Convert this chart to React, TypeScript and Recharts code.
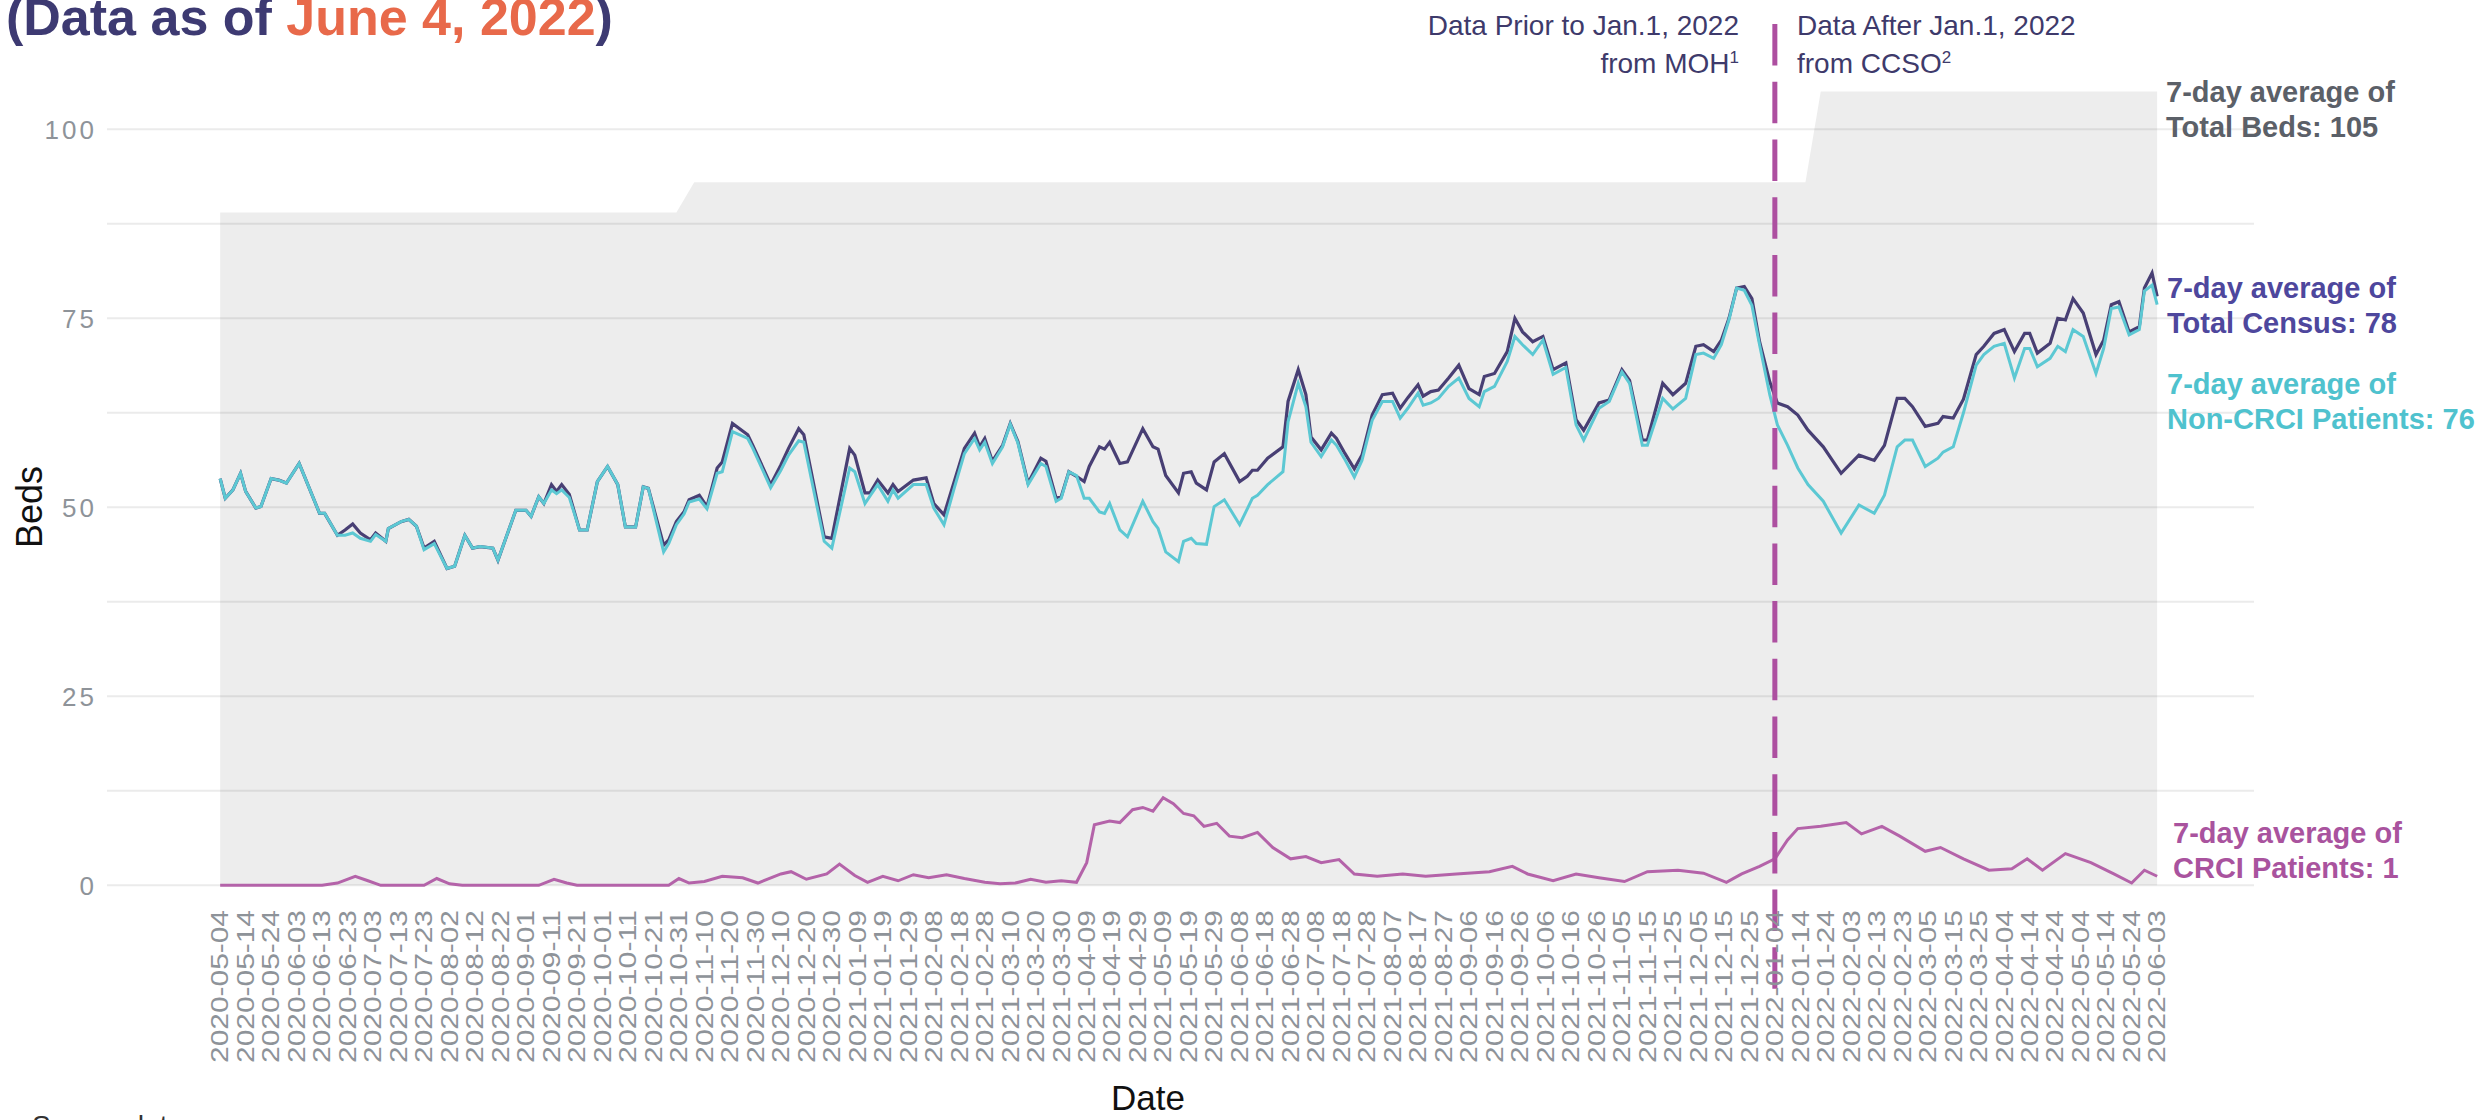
import React from 'react';
import { ComposedChart, Line, Area, XAxis, YAxis, CartesianGrid, ReferenceLine } from 'recharts';

// x positions are day offsets from 2020-05-04
const tickLabels = [
  '2020-05-04','2020-05-14','2020-05-24','2020-06-03','2020-06-13','2020-06-23','2020-07-03','2020-07-13','2020-07-23','2020-08-02',
  '2020-08-12','2020-08-22','2020-09-01','2020-09-11','2020-09-21','2020-10-01','2020-10-11','2020-10-21','2020-10-31','2020-11-10',
  '2020-11-20','2020-11-30','2020-12-10','2020-12-20','2020-12-30','2021-01-09','2021-01-19','2021-01-29','2021-02-08','2021-02-18',
  '2021-02-28','2021-03-10','2021-03-20','2021-03-30','2021-04-09','2021-04-19','2021-04-29','2021-05-09','2021-05-19','2021-05-29',
  '2021-06-08','2021-06-18','2021-06-28','2021-07-08','2021-07-18','2021-07-28','2021-08-07','2021-08-17','2021-08-27','2021-09-06',
  '2021-09-16','2021-09-26','2021-10-06','2021-10-16','2021-10-26','2021-11-05','2021-11-15','2021-11-25','2021-12-05','2021-12-15',
  '2021-12-25','2022-01-04','2022-01-14','2022-01-24','2022-02-03','2022-02-13','2022-02-23','2022-03-05','2022-03-15','2022-03-25',
  '2022-04-04','2022-04-14','2022-04-24','2022-05-04','2022-05-14','2022-05-24','2022-06-03',
];
const tickDays = tickLabels.map((_, i) => i * 10);

const yTicks = [0, 25, 50, 75, 100];
const gridValues = [0, 12.5, 25, 37.5, 50, 62.5, 75, 87.5, 100];

const lineDays = [
  0, 2, 5, 8, 10, 14, 16, 20, 23, 26, 31, 35, 39, 41, 46, 49, 52, 55, 59, 61, 65, 66, 71, 74, 77, 80, 84, 89, 92, 96,
  99, 102, 107, 109, 116, 120, 122, 125, 127, 130, 132, 134, 137, 141, 144, 148, 152, 156, 159, 163, 166, 168, 174, 176, 179, 182, 184, 188, 191, 195,
  197, 201, 207, 209, 216, 220, 223, 227, 229, 237, 240, 247, 249, 253, 255, 258, 262, 264, 266, 272, 277, 280, 284, 288, 292, 296, 298, 300, 303, 307,
  310, 313, 317, 322, 324, 328, 330, 333, 336, 339, 341, 345, 347, 349, 353, 356, 362, 366, 368, 371, 376, 378, 381, 383, 387, 390, 394, 400, 403, 405,
  407, 411, 417, 419, 423, 426, 428, 432, 436, 438, 441, 445, 448, 452, 456, 460, 463, 466, 470, 472, 475, 478, 482, 486, 490, 494, 496, 500, 505, 508,
  511, 515, 519, 523, 528, 532, 535, 541, 545, 550, 553, 558, 560, 566, 570, 575, 579, 582, 586, 589, 592, 595, 598, 601, 604, 608, 611, 615, 619, 623,
  629, 636, 643, 649, 653, 658, 661, 664, 669, 674, 676, 680, 684, 689, 692, 696, 700, 704, 708, 710, 713, 718, 721, 724, 727, 731, 736, 739, 742, 745,
  749, 753, 755, 758, 760,
];
const totalCensus = [
  53.8, 51.2, 52.3, 54.5, 52.1, 49.9, 50.1, 53.8, 53.6, 53.2, 55.8, 52.5, 49.2, 49.2, 46.3, 47.0, 47.8, 46.6, 45.7, 46.6, 45.5, 47.2, 48.1, 48.4, 47.5, 44.6, 45.5, 41.9, 42.2, 46.3,
  44.6, 44.8, 44.6, 43.0, 49.6, 49.6, 48.8, 51.4, 50.5, 53.0, 52.1, 53.0, 51.7, 47.0, 47.0, 53.4, 55.4, 53.0, 47.4, 47.4, 52.7, 52.5, 45.0, 45.7, 48.1, 49.4, 51.0, 51.6, 50.1, 55.2,
  56.0, 61.1, 59.6, 58.2, 53.0, 55.6, 57.8, 60.4, 59.6, 46.1, 45.9, 57.8, 56.9, 51.9, 51.9, 53.6, 51.9, 53.0, 52.1, 53.6, 53.9, 50.5, 49.0, 53.4, 57.8, 59.8, 58.0, 59.1, 56.1, 58.2,
  61.1, 58.7, 53.2, 56.5, 56.1, 51.2, 51.4, 54.7, 54.1, 53.4, 55.4, 58.0, 57.7, 58.6, 55.8, 56.0, 60.4, 58.0, 57.7, 54.2, 51.9, 54.5, 54.7, 53.2, 52.3, 56.0, 57.1, 53.4, 54.1, 54.9,
  54.9, 56.5, 58.0, 64.0, 68.2, 64.9, 59.3, 57.6, 59.8, 59.1, 57.3, 55.1, 56.9, 62.2, 64.9, 65.1, 63.1, 64.5, 66.2, 64.7, 65.3, 65.5, 67.1, 68.8, 65.7, 64.9, 67.3, 67.7, 70.6, 75.0,
  73.2, 71.9, 72.6, 68.2, 69.1, 61.6, 60.2, 63.8, 64.2, 68.2, 66.8, 58.9, 58.9, 66.4, 64.9, 66.4, 71.3, 71.5, 70.6, 72.1, 75.0, 79.0, 79.2, 77.6, 71.9, 66.6, 63.8, 63.3, 62.2, 60.2,
  58.0, 54.5, 56.9, 56.2, 58.2, 64.4, 64.4, 63.3, 60.7, 61.1, 62.0, 61.8, 64.3, 70.2, 71.3, 73.0, 73.5, 70.6, 73.0, 73.0, 70.4, 71.7, 75.0, 74.8, 77.6, 75.7, 70.2, 72.1, 76.8, 77.2,
  73.2, 73.9, 79.0, 81.0, 77.9,
];
const nonCrciPatients = [
  53.8, 51.2, 52.3, 54.5, 52.1, 49.9, 50.1, 53.8, 53.6, 53.2, 55.8, 52.5, 49.2, 49.2, 46.3, 46.3, 46.6, 45.9, 45.5, 46.4, 45.5, 47.2, 48.1, 48.4, 47.5, 44.4, 45.2, 41.9, 42.2, 46.3,
  44.6, 44.8, 44.6, 43.0, 49.6, 49.6, 48.8, 51.4, 50.5, 52.3, 51.8, 52.3, 51.3, 47.0, 47.0, 53.4, 55.4, 53.0, 47.4, 47.4, 52.7, 52.5, 44.1, 45.2, 47.7, 49.1, 50.7, 51.1, 49.8, 54.5,
  54.7, 60.0, 59.1, 57.8, 52.6, 54.9, 56.9, 58.8, 58.6, 45.5, 44.6, 55.2, 54.7, 50.5, 51.5, 53.0, 50.8, 52.3, 51.2, 53.0, 53.0, 49.9, 47.7, 52.5, 57.1, 59.1, 57.6, 58.6, 55.8, 58.0,
  61.0, 58.5, 53.0, 55.8, 55.4, 50.8, 51.2, 54.7, 54.2, 51.2, 51.2, 49.4, 49.2, 50.5, 47.0, 46.1, 50.8, 48.1, 47.2, 44.1, 42.8, 45.5, 45.9, 45.2, 45.1, 50.1, 51.0, 47.7, 49.8, 51.2,
  51.6, 53.0, 54.7, 61.3, 66.4, 63.3, 58.6, 56.7, 58.9, 58.2, 56.5, 54.0, 56.2, 61.5, 64.0, 64.0, 61.8, 63.1, 65.1, 63.5, 63.8, 64.4, 66.0, 67.1, 64.4, 63.3, 65.3, 66.0, 69.3, 72.6,
  71.5, 70.2, 72.1, 67.6, 68.5, 60.9, 58.9, 63.1, 64.0, 67.9, 66.4, 58.2, 58.2, 64.4, 63.0, 64.4, 70.2, 70.4, 69.7, 71.5, 74.8, 79.0, 78.7, 76.7, 71.5, 64.9, 60.9, 58.2, 55.2, 53.0,
  50.8, 46.6, 50.3, 49.2, 51.6, 58.0, 58.9, 58.9, 55.4, 56.5, 57.3, 58.0, 62.5, 68.8, 70.2, 71.3, 71.7, 67.1, 71.0, 71.0, 68.6, 69.7, 71.3, 70.6, 73.5, 72.6, 67.7, 71.0, 76.3, 76.5,
  72.8, 73.5, 78.6, 79.4, 76.8,
];

const crciDays = [
  0, 40, 46, 53, 58, 63, 80, 85, 90, 95, 125, 131, 136, 140, 176, 180, 184, 190, 197, 205, 211, 220, 224, 230, 238, 243, 249, 254, 260, 266,
  272, 278, 285, 292, 300, 306, 312, 318, 324, 330, 336, 340, 343, 349, 353, 358, 362, 366, 370, 374, 378, 382, 386, 391, 396, 401, 407, 413, 420, 426,
  432, 439, 445, 454, 464, 473, 485, 498, 507, 513, 523, 532, 541, 551, 560, 572, 582, 591, 597, 604, 610, 615, 619, 628, 638, 644, 652, 659, 669, 675,
  684, 694, 703, 709, 715, 724, 734, 743, 750, 755, 760,
];
const crciPatients = [
  0, 0, 0.3, 1.2, 0.6, 0, 0, 0.9, 0.2, 0, 0, 0.8, 0.3, 0, 0, 0.9, 0.3, 0.5, 1.2, 1.0, 0.3, 1.5, 1.8, 0.8, 1.5, 2.8, 1.3, 0.4, 1.2, 0.6,
  1.4, 1.0, 1.4, 0.9, 0.4, 0.2, 0.3, 0.8, 0.4, 0.6, 0.4, 3.0, 8.0, 8.5, 8.3, 10.0, 10.3, 9.8, 11.6, 10.8, 9.5, 9.2, 7.8, 8.2, 6.5, 6.3, 7.0, 5.0, 3.5, 3.8,
  3.0, 3.4, 1.5, 1.2, 1.5, 1.2, 1.5, 1.8, 2.5, 1.5, 0.6, 1.5, 1.0, 0.5, 1.8, 2.0, 1.6, 0.4, 1.5, 2.5, 3.5, 6.0, 7.5, 7.8, 8.3, 6.8, 7.8, 6.5, 4.5, 5.0,
  3.5, 2.0, 2.2, 3.5, 2.0, 4.2, 3.0, 1.5, 0.3, 2.0, 1.2,
];

const bedDays = [0, 179, 186, 622, 628, 760];
const totalBeds = [89, 89, 93, 93, 105, 105];

const sourceChangeDay = 610;

const mainData = lineDays.map((d, i) => ({ day: d, census: totalCensus[i], nonCrci: nonCrciPatients[i] }));
const crciData = crciDays.map((d, i) => ({ day: d, crci: crciPatients[i] }));
const bedData = bedDays.map((d, i) => ({ day: d, beds: totalBeds[i] }));

const FONT = 'Liberation Sans, Arial, sans-serif';
const AXIS_GRAY = '#8e9399';

const XTick = (props: any) => {
  const { x, payload } = props;
  const label = tickLabels[Math.round(payload.value / 10)];
  return (
    <text
      transform={`translate(${x},910) rotate(-90)`}
      textAnchor="end"
      dy="0.36em"
      fontFamily={FONT}
      fontSize={23}
      fill={AXIS_GRAY}
      textLength={153}
      lengthAdjust="spacingAndGlyphs"
    >
      {label}
    </text>
  );
};

const YTick = (props: any) => {
  const { y, payload } = props;
  return (
    <text x={97} y={y} dy="0.36em" textAnchor="end" fontFamily={FONT} fontSize={26} fill={AXIS_GRAY} letterSpacing={3}>
      {payload.value}
    </text>
  );
};

export default function App() {
  return (
    <div style={{ position: 'absolute', left: 0, top: 0, width: 2483, height: 1120, background: '#fff', overflow: 'hidden' }}>
      <ComposedChart
        width={2483}
        height={1120}
        margin={{ top: 51.8, right: 229, bottom: 25, left: 7 }}
      >
        <CartesianGrid vertical={false} horizontalValues={gridValues} stroke="rgba(0,0,0,0.08)" strokeWidth={2} />
        <XAxis
          type="number"
          dataKey="day"
          domain={[-44.4, 798]}
          allowDataOverflow
          ticks={tickDays}
          interval={0}
          tick={<XTick />}
          axisLine={false}
          tickLine={false}
          height={170}
        />
        <YAxis
          type="number"
          domain={[-5.25, 110.25]}
          allowDataOverflow
          ticks={yTicks}
          interval={0}
          tick={<YTick />}
          axisLine={false}
          tickLine={false}
          width={100}
        />
        <Area
          data={bedData}
          dataKey="beds"
          type="linear"
          fill="#000"
          fillOpacity={0.07}
          stroke="none"
          baseValue={0}
          isAnimationActive={false}
        />
        <Line data={crciData} dataKey="crci" type="linear" stroke="#b463a9" strokeWidth={3} dot={false} isAnimationActive={false} />
        <Line data={mainData} dataKey="census" type="linear" stroke="#483f74" strokeWidth={3.2} dot={false} isAnimationActive={false} />
        <Line data={mainData} dataKey="nonCrci" type="linear" stroke="#5cc8d3" strokeWidth={3} dot={false} isAnimationActive={false} />
        <ReferenceLine
          segment={[{ x: sourceChangeDay, y: 115 }, { x: sourceChangeDay, y: -15.2 }]}
          ifOverflow="visible"
          stroke="#ad4fa0"
          strokeWidth={5}
          strokeDasharray="41.5 16.2"
          strokeDashoffset={49.5}
        />
      </ComposedChart>
      <svg width={2483} height={1120} style={{ position: 'absolute', left: 0, top: 0, pointerEvents: 'none' }} fontFamily={FONT}>
        <text x={6} y={35} fontSize={52} fontWeight="bold" fill="#3d3a72">
          (Data as of <tspan fill="#e8694a">June 4, 2022</tspan>)
        </text>
        <text x={1739} y={35} fontSize={28} fill="#3e3a6b" textAnchor="end">Data Prior to Jan.1, 2022</text>
        <text x={1739} y={73} fontSize={28} fill="#3e3a6b" textAnchor="end">
          from MOH<tspan fontSize={17} dy={-10}>1</tspan>
        </text>
        <text x={1797} y={35} fontSize={28} fill="#3e3a6b">Data After Jan.1, 2022</text>
        <text x={1797} y={73} fontSize={28} fill="#3e3a6b">
          from CCSO<tspan fontSize={17} dy={-10}>2</tspan>
        </text>

        <g fontSize={29} fontWeight="bold">
          <text x={2166} y={102} fill="#5b6068">7-day average of</text>
          <text x={2166} y={137} fill="#5b6068">Total Beds: 105</text>
          <text x={2167} y={298} fill="#4e479d">7-day average of</text>
          <text x={2167} y={333} fill="#4e479d">Total Census: 78</text>
          <text x={2167} y={394} fill="#4fc2ce">7-day average of</text>
          <text x={2167} y={429} fill="#4fc2ce">Non-CRCI Patients: 76</text>
          <text x={2173} y={843} fill="#a9539e">7-day average of</text>
          <text x={2173} y={878} fill="#a9539e">CRCI Patients: 1</text>
        </g>

        <text transform="translate(42,507) rotate(-90)" textAnchor="middle" fontSize={36} fill="#111">Beds</text>
        <text x={1148} y={1110} textAnchor="middle" fontSize={35} fill="#111">Date</text>
        <text x={32} y={1135} fontSize={28} fill="#333">Source data</text>
      </svg>
    </div>
  );
}
